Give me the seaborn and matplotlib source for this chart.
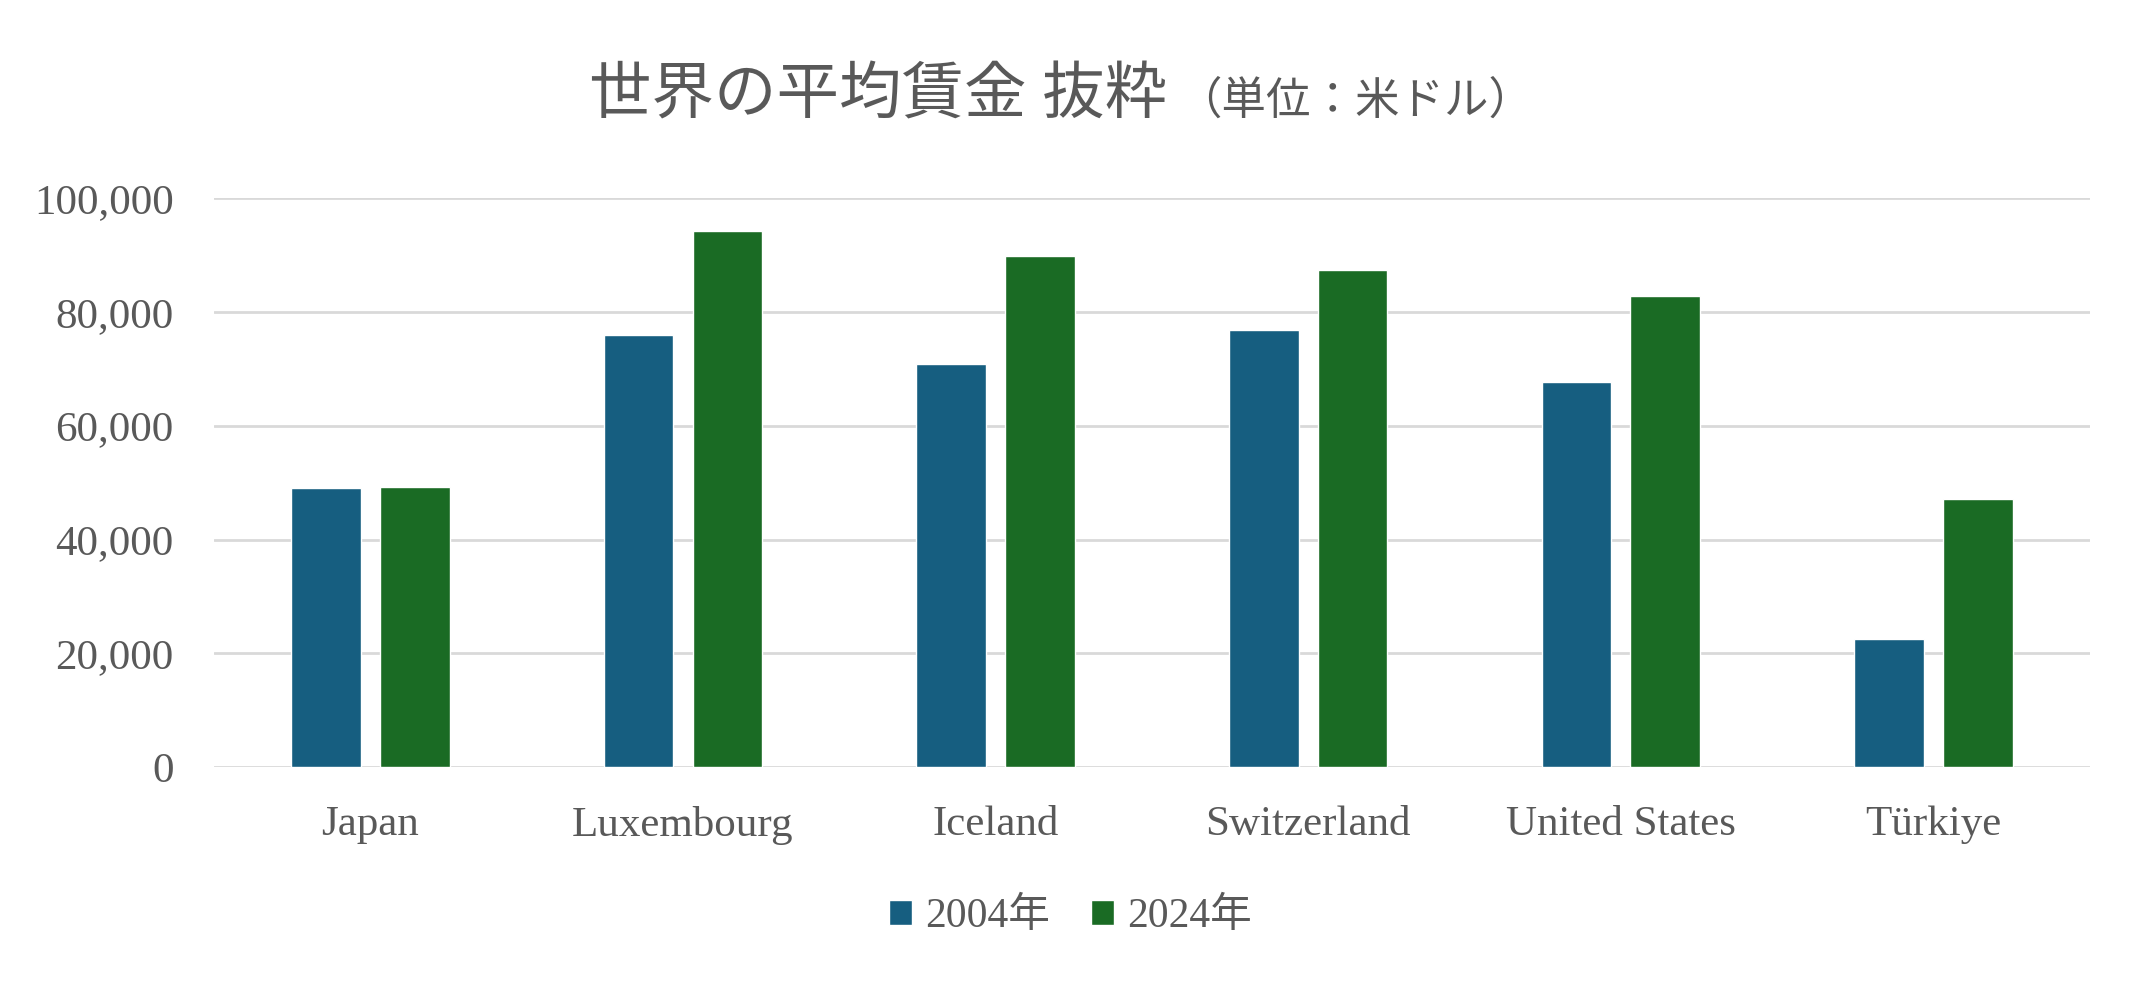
import matplotlib
matplotlib.use("Agg")
import matplotlib.pyplot as plt
import seaborn as sns
import pandas as pd
from matplotlib.ticker import FuncFormatter

# values (USD)
countries = ["Japan", "Luxembourg", "Iceland", "Switzerland", "United States", "Türkiye"]
years = ["2004年", "2024年"]
wage_2004 = [49100, 76000, 70900, 76900, 67700, 22600]
wage_2024 = [49300, 94300, 89800, 87400, 82800, 47200]

title_main = "世界の平均賃金 抜粋"
title_sub = "（単位：米ドル）"

colors = ["#165E80", "#1A6B24"]
text_color = "#595959"
grid_color = "#D9D9D9"

df = pd.DataFrame({
    "country": countries * 2,
    "year": [years[0]] * len(countries) + [years[1]] * len(countries),
    "wage": wage_2004 + wage_2024,
})

sns.set_style("white")
plt.rcParams["font.family"] = ["Liberation Serif", "Noto Sans CJK JP"]
plt.rcParams["text.color"] = text_color

fig = plt.figure(figsize=(21.41, 9.86), dpi=100)
ax = fig.add_axes([0.100, 0.222, 0.876, 0.577])

sns.barplot(data=df, x="country", y="wage", hue="year", palette=colors,
            width=0.568, gap=0.215, saturation=1, ax=ax)

ax.set_ylim(0, 100000)
ax.set_xlim(-0.5, len(countries) - 0.5)
ax.set_yticks(range(0, 100001, 20000))
ax.yaxis.set_major_formatter(FuncFormatter(lambda v, p: f"{int(v):,}"))
ax.grid(axis="y", color=grid_color, linewidth=2.0)
ax.set_axisbelow(True)
for s in ax.spines.values():
    s.set_visible(False)
ax.tick_params(axis="y", length=0, pad=29, labelsize=31, labelcolor=text_color)
ax.tick_params(axis="x", length=0, pad=28, labelsize=31, labelcolor=text_color)
ax.set_xlabel("")
ax.set_ylabel("")

sns.move_legend(ax, "center", bbox_to_anchor=(0.5, 0.07), bbox_transform=fig.transFigure,
                ncol=2, frameon=False, title=None, fontsize=30,
                handlelength=0.55, handleheight=0.55, handletextpad=0.3, columnspacing=1.0)
for t in ax.get_legend().get_texts():
    t.set_color(text_color)

fig.text(0.545, 0.885, title_main, ha="right", va="baseline", fontsize=45, color=text_color)
fig.text(0.550, 0.885, title_sub, ha="left", va="baseline", fontsize=32, color=text_color)

fig.savefig("out.png", dpi=100, facecolor="white")
